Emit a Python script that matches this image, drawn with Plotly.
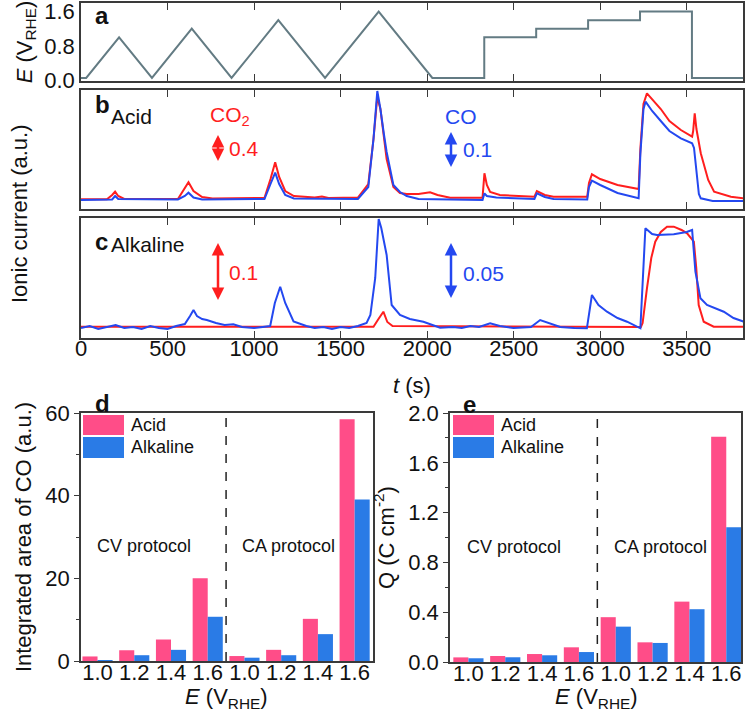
import plotly.graph_objects as go

W, H = 746, 718
FONT = "Liberation Sans"
RED = "#ff1e1e"
BLUE = "#2448f0"
PINK = "#ff4d88"
LBLUE = "#2a7be6"
AX = "#3a3a3a"

# ---------------- data ----------------
# panel a: potential profile
a_t = [0, 30, 220, 410, 640, 870, 1140, 1410, 1720, 2030, 2330, 2330, 2630, 2630, 2930, 2930, 3230, 3230, 3530, 3530, 3825]
a_E = [0.05, 0.05, 1.0, 0.05, 1.2, 0.05, 1.4, 0.05, 1.6, 0.05, 0.05, 1.0, 1.0, 1.2, 1.2, 1.4, 1.4, 1.6, 1.6, 0.05, 0.05]

# panel b (acid) CO2 signal, display units
b_co2_t = [0, 150, 180, 197, 215, 250, 560, 590, 621, 650, 700, 760, 1060, 1095, 1122, 1145, 1180, 1230, 1350, 1392, 1430, 1600,
           1660, 1690, 1712, 1730, 1750, 1766, 1805, 1843, 1882, 1950, 2017, 2060, 2133, 2320, 2331, 2345, 2364, 2420, 2620,
           2634, 2680, 2730, 2925, 2935, 2952, 3000, 3100, 3222, 3232, 3250, 3270, 3300, 3350, 3400, 3466, 3531, 3537, 3546,
           3556, 3581, 3624, 3658, 3755, 3830]
b_co2_v = [9.7, 9.7, 14, 17.3, 13, 10, 10, 18, 26.7, 18, 12, 10.5, 11, 30, 46.7, 32, 18, 13, 11.5, 12.5, 11, 11.5,
           25, 70, 112, 100, 70, 50, 22, 16, 15, 15, 16.7, 14, 11.3, 11.3, 35.7, 24, 17, 14, 12.3,
           18, 14, 12.3, 12.3, 26, 34.7, 30, 24, 20, 60, 105, 115.7, 110, 100, 88, 79, 72.3, 78, 95.7,
           80, 55.7, 29, 17.3, 12.3, 10.7]
# panel b (acid) CO signal
b_co_t = [0, 180, 197, 215, 560, 600, 621, 650, 700, 1060, 1095, 1122, 1145, 1180, 1230, 1600, 1660, 1690, 1712, 1730, 1750,
          1766, 1805, 1843, 1882, 1950, 2320, 2331, 2345, 2400, 2620, 2634, 2680, 2730, 2925, 2935, 2952, 3000, 3100, 3222,
          3232, 3250, 3262, 3300, 3350, 3400, 3466, 3531, 3542, 3555, 3570, 3581, 3650, 3830]
b_co_v = [9, 9.5, 13, 10, 9.5, 13, 16.3, 11.5, 9.5, 10, 25, 36.3, 25, 14, 10.5, 10, 22, 70, 118, 100, 75,
          57, 24, 17, 13, 10, 9, 15.7, 13, 11.5, 10, 15.7, 12, 10, 9.5, 22, 28.3, 24, 16, 10.7,
          55, 100, 107.3, 98, 88, 78, 70.7, 65.7, 61, 40, 15, 10.7, 8, 8]

# panel c (alkaline) CO2 signal
c_co2_t = [0, 1690, 1715, 1747, 1770, 1800, 3235, 3245, 3270, 3295, 3318, 3350, 3386, 3425, 3470, 3502, 3541, 3555, 3569,
           3598, 3656, 3830]
c_co2_v = [11.3, 11.3, 18, 26.3, 16, 12, 11, 15, 49.7, 80, 96.3, 106, 111.3, 111.3, 108, 104.7, 96.3, 70, 33,
           16.3, 11.3, 11.3]
# panel c (alkaline) CO signal
c_co_t = [0, 50, 100, 150, 200, 250, 300, 350, 400, 450, 500, 550, 600, 630, 650, 670, 700, 727, 780, 830, 880, 930, 1000,
          1050, 1093, 1120, 1151, 1180, 1228, 1302, 1350, 1400, 1450, 1500, 1550, 1600, 1650, 1672, 1700, 1720, 1735, 1766,
          1795, 1843, 1900, 1978, 2075, 2150, 2200, 2250, 2300, 2364, 2420, 2499, 2600, 2653, 2700, 2769, 2850, 2923, 2952,
          2990, 3039, 3100, 3155, 3232, 3261, 3300, 3328, 3425, 3500, 3531, 3550, 3579, 3617, 3714, 3770, 3830]
c_co_v = [10, 12, 9, 11, 13, 10, 11, 9, 12, 10, 9, 12, 14, 22, 28, 22, 19, 18, 15, 13, 13.7, 11, 10,
          11, 12, 35, 51.3, 35, 16.5, 12, 10, 11, 9, 11, 10, 12, 15, 23, 60, 119, 110, 83,
          33, 23, 19, 16.3, 10.3, 11, 10, 12, 11, 14.7, 12, 10, 11, 18, 15, 11, 10, 9.7, 43,
          33, 26.3, 20, 16.3, 9.7, 109.7, 104, 103, 103.7, 106, 108, 66.3, 39.7, 33, 26.3, 20, 16.3]

# panels d, e
bar_labels = ["1.0", "1.2", "1.4", "1.6", "1.0", "1.2", "1.4", "1.6"]
d_acid = [1.1, 2.6, 5.2, 20.0, 1.2, 2.7, 10.2, 58.5]
d_alk = [0.2, 1.4, 2.7, 10.7, 0.8, 1.4, 6.5, 39.1]
e_acid = [0.037, 0.048, 0.064, 0.118, 0.36, 0.158, 0.485, 1.81]
e_alk = [0.030, 0.038, 0.054, 0.080, 0.284, 0.153, 0.424, 1.083]


def px(x):
    return x / W


def py(y):
    return 1 - y / H


fig = go.Figure()
fig.add_trace(go.Scatter(x=a_t, y=a_E, mode="lines", line=dict(color="#637b83", width=2), xaxis="x", yaxis="y"))
fig.add_trace(go.Scatter(x=b_co2_t, y=b_co2_v, mode="lines", line=dict(color=RED, width=2), xaxis="x2", yaxis="y2"))
fig.add_trace(go.Scatter(x=b_co_t, y=b_co_v, mode="lines", line=dict(color=BLUE, width=2), xaxis="x2", yaxis="y2"))
fig.add_trace(go.Scatter(x=c_co2_t, y=c_co2_v, mode="lines", line=dict(color=RED, width=2), xaxis="x3", yaxis="y3"))
fig.add_trace(go.Scatter(x=c_co_t, y=c_co_v, mode="lines", line=dict(color=BLUE, width=2), xaxis="x3", yaxis="y3"))

xi = list(range(len(bar_labels)))
fig.add_trace(go.Bar(x=xi, y=d_acid, marker=dict(color=PINK, line=dict(width=0)), xaxis="x4", yaxis="y4", name="Acid"))
fig.add_trace(go.Bar(x=xi, y=d_alk, marker=dict(color=LBLUE, line=dict(width=0)), xaxis="x4", yaxis="y4", name="Alkaline"))
fig.add_trace(go.Bar(x=xi, y=e_acid, marker=dict(color=PINK, line=dict(width=0)), xaxis="x5", yaxis="y5", name="Acid"))
fig.add_trace(go.Bar(x=xi, y=e_alk, marker=dict(color=LBLUE, line=dict(width=0)), xaxis="x5", yaxis="y5", name="Alkaline"))

tickfont = dict(family=FONT, size=22, color="#111")
titlefont = dict(family=FONT, size=22, color="#111")
box = dict(showline=True, linecolor=AX, linewidth=1.5, showgrid=False, zeroline=False, tickfont=tickfont,
           automargin=False, ticklabeloverflow="allow")

xdom = [px(81), px(743)]
trange = [0, 3825]
tx = dict(box, range=trange, tickvals=[0, 500, 1000, 1500, 2000, 2500, 3000, 3500], ticks="inside", ticklen=7,
          tickcolor=AX, mirror="ticks")
bx = dict(box, ticks="", mirror=True, ticklabelstandoff=-9)

layout = dict(
    width=W, height=H, margin=dict(l=0, r=0, t=0, b=0, autoexpand=False), paper_bgcolor="white",
    plot_bgcolor="white",
    showlegend=False, barmode="group", bargap=0.18, bargroupgap=0,
    xaxis=dict(tx, domain=xdom, anchor="y", showticklabels=False),
    yaxis=dict(box, domain=[py(81), py(3)], anchor="x", range=[-0.02, 1.8], tickvals=[0, 0.8, 1.6],
               ticktext=["0.0", "0.8", "1.6"], ticks="", mirror=True,
               title=dict(text="<i>E</i> (V<sub>RHE</sub>)", font=titlefont, standoff=6)),
    xaxis2=dict(tx, domain=xdom, anchor="y2", showticklabels=False),
    yaxis2=dict(box, domain=[py(209), py(90)], anchor="x2", range=[0, 119], showticklabels=False, ticks="", mirror=True),
    xaxis3=dict(tx, domain=xdom, anchor="y3", showticklabels=True, ticklabelstandoff=-10),
    yaxis3=dict(box, domain=[py(338), py(218)], anchor="x3", range=[0, 120], showticklabels=False, ticks="", mirror=True),
    xaxis4=dict(bx, domain=[px(81), px(373)], anchor="y4", range=[-0.45, 7.5], tickvals=xi, ticktext=bar_labels),
    yaxis4=dict(box, domain=[py(661), py(413)], anchor="x4", range=[0, 60], tickvals=[0, 20, 40, 60], ticks="outside",
                ticklen=5, tickcolor=AX, mirror=True, minor=dict(ticks="outside", ticklen=3, dtick=10, tickcolor=AX),
                title=dict(text="Integrated area of CO (a.u.)", font=titlefont, standoff=8)),
    xaxis5=dict(bx, domain=[px(450), px(741)], anchor="y5", range=[-0.5, 7.4], tickvals=xi, ticktext=bar_labels),
    yaxis5=dict(box, domain=[py(662), py(413)], anchor="x5", range=[0, 2.0], tickvals=[0, 0.4, 0.8, 1.2, 1.6, 2.0],
                ticktext=["0.0", "0.4", "0.8", "1.2", "1.6", "2.0"], ticks="outside", ticklen=5, tickcolor=AX,
                mirror=True, minor=dict(ticks="outside", ticklen=3, dtick=0.2, tickcolor=AX),
                title=dict(text="Q (C cm<sup>-2</sup>)", font=titlefont, standoff=8)),
)
fig.update_layout(**layout)

shapes = []
for xa, ya in (("x4", "y4"), ("x5", "y5")):
    shapes.append(dict(type="line", xref=xa, yref=ya + " domain", x0=3.5, x1=3.5, y0=0, y1=1,
                       line=dict(color="#222", width=1.5, dash="dash")))
# custom legends
for (x0, x1) in ((83, 124), (453, 494)):
    shapes.append(dict(type="rect", xref="paper", yref="paper", x0=px(x0), x1=px(x1), y0=py(435), y1=py(415),
                       fillcolor=PINK, line=dict(width=0)))
    shapes.append(dict(type="rect", xref="paper", yref="paper", x0=px(x0), x1=px(x1), y0=py(458), y1=py(437),
                       fillcolor=LBLUE, line=dict(width=0)))

ann = []


def text(x, y, s, size=18, color="#111", bold=False, xanchor="left", textangle=0):
    ann.append(dict(x=px(x), y=py(y), xref="paper", yref="paper", text=("<b>%s</b>" % s) if bold else s,
                    showarrow=False, xanchor=xanchor, yanchor="middle", textangle=textangle,
                    font=dict(family=FONT, size=size, color=color)))


def darrow(x, y0, y1, color):
    # shaft
    shapes.append(dict(type="line", xref="paper", yref="paper", x0=px(x), x1=px(x), y0=py(y0 + 4), y1=py(y1 - 4),
                       line=dict(color=color, width=2.5)))
    for yy, off in ((y0, 7), (y1, -7)):
        ann.append(dict(x=px(x), y=py(yy), xref="paper", yref="paper", ax=0, ay=off, text="",
                        showarrow=True, arrowhead=2, arrowsize=1, arrowwidth=2.5, arrowcolor=color))


text(93, 16, "a", size=24, bold=True)
text(93, 104, "b", size=24, bold=True)
text(109, 117, "Acid", size=21)
text(93, 241, "c", size=24, bold=True)
text(109, 245, "Alkaline", size=21)
text(208, 116, "CO<sub>2</sub>", size=21, color=RED)
darrow(218, 135, 161, RED)
text(227, 148, "0.4", size=21, color=RED)
text(443, 116, "CO", size=21, color=BLUE)
darrow(451, 132, 167, BLUE)
text(461, 150, "0.1", size=21, color=BLUE)
darrow(218, 243, 300, RED)
text(227, 272, "0.1", size=21, color=RED)
darrow(451, 243, 298, BLUE)
text(461, 273, "0.05", size=21, color=BLUE)
text(20, 214, "Ionic current (a.u.)", size=22, xanchor="center", textangle=-90)
text(412, 385, "<i>t</i> (s)", size=22, xanchor="center")

text(93, 403, "d", size=24, bold=True)
text(461, 404, "e", size=24, bold=True)
text(129, 425, "Acid", size=18)
text(129, 447, "Alkaline", size=18)
text(499, 425, "Acid", size=18)
text(499, 447, "Alkaline", size=18)
text(144, 546, "CV protocol", size=18, xanchor="center")
text(288, 546, "CA protocol", size=18, xanchor="center")
text(514, 547, "CV protocol", size=18, xanchor="center")
text(660, 547, "CA protocol", size=18, xanchor="center")
text(227, 698, "<i>E</i> (V<sub>RHE</sub>)", size=22, xanchor="center")
text(596, 698, "<i>E</i> (V<sub>RHE</sub>)", size=22, xanchor="center")

fig.update_layout(shapes=shapes, annotations=ann)
fig.write_html("out.html")
